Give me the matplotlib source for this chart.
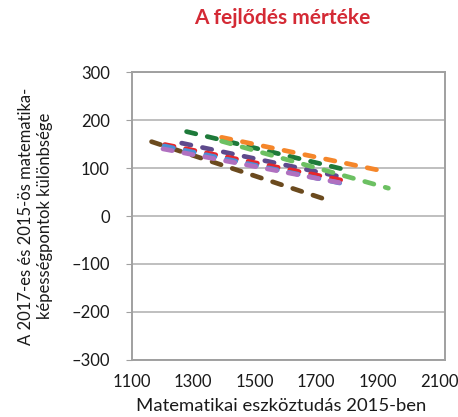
import matplotlib
matplotlib.use("Agg")
import matplotlib.pyplot as plt

series_names = ["brown", "slate", "darkgreen", "orange", "lightgreen", "red", "blue", "orchid"]
x_start = [1164, 1262, 1278, 1392, 1392, 1207, 1205, 1201]
x_end = [1734, 1771, 1792, 1908, 1935, 1804, 1790, 1780]
y_start = [155, 152, 176, 164, 156, 149, 146, 140]
y_end = [34, 83, 97, 95, 58, 72, 67, 69]
colors = ["#6b4a1e", "#5e4a8c", "#1e7a3a", "#f5862a", "#6cc062", "#e8262b", "#4a8fd6", "#b070c0"]

x_ticks = [1100, 1300, 1500, 1700, 1900, 2100]
y_ticks = [-300, -200, -100, 0, 100, 200, 300]

plt.rcParams['font.family'] = ['Lato', 'DejaVu Sans']

fig = plt.figure(figsize=(4.58, 4.17), dpi=100)
ax = fig.add_axes([0.288, 0.137, 0.684, 0.690])

for i in range(len(series_names)):
    ax.plot([x_start[i], x_end[i]], [y_start[i], y_end[i]], color=colors[i],
            lw=3.4, linestyle=(0, (2.0, 2.5)), dash_capstyle='round', zorder=3)

ax.set_xlim(1100, 2120)
ax.set_ylim(-300, 300)
ax.set_xticks(x_ticks)
ax.set_yticks(y_ticks)
ax.set_yticklabels([str(v).replace('-', '\u2013') for v in y_ticks])
ax.grid(axis='y', color='#b4b4b4', lw=1.2)
ax.set_axisbelow(True)
for s in ax.spines.values():
    s.set_color('#a0a0a0')
    s.set_linewidth(1.4)
ax.tick_params(axis='both', colors='#a0a0a0', labelcolor='#1a1a1a', labelsize=12, length=4)
ax.tick_params(axis='y', pad=12)
ax.tick_params(axis='x', length=0, pad=10)

ax.set_xlabel("Matematikai eszköztudás 2015-ben", fontsize=13.3, color='#1a1a1a')
ax.xaxis.set_label_coords(0.476, -0.132)
ax.set_ylabel("A 2017-es és 2015-ös matematika-\nképességpontok különbsége", fontsize=12,
              color='#1a1a1a', linespacing=1.2)
ax.yaxis.set_label_coords(-0.252, 0.5)
fig.text(0.616, 0.957, "A fejlődés mértéke", ha='center', va='center', color='#d42a35',
         fontsize=15, fontweight='bold')

fig.savefig("out.png", dpi=100)
